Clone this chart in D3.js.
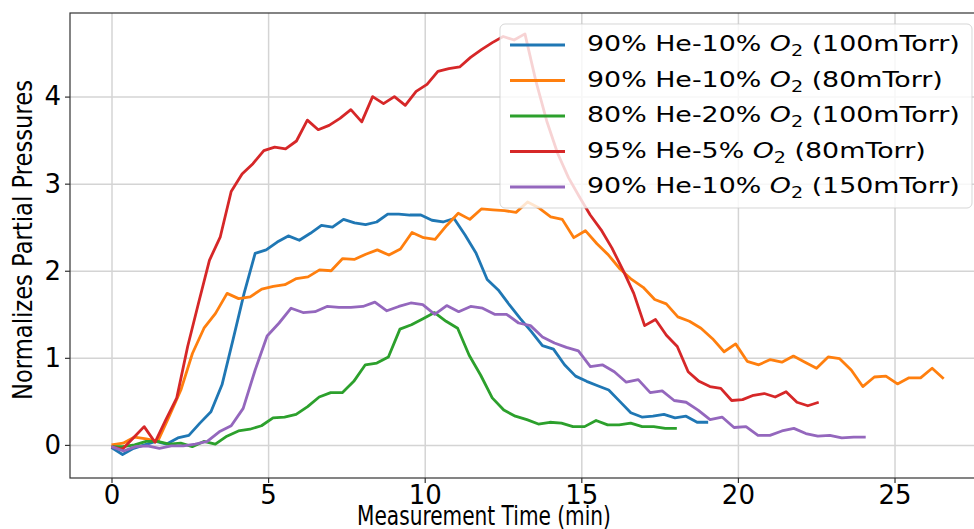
<!DOCTYPE html>
<html>
<head>
<meta charset="utf-8">
<script src="https://cdn.jsdelivr.net/npm/d3@7"></script>
<style>
    body { margin:0; background:#fff; }
    text { font-family:"DejaVu Sans", sans-serif; fill:#000; }
</style>
</head>
<body>
<script>

var blueVals = [-0.03,-0.11,-0.04,0.00,0.04,0.01,0.08,0.11,0.25,0.38,
    0.69,1.21,1.74,2.20,2.24,2.33,2.40,2.35,2.43,2.52,
    2.50,2.59,2.55,2.53,2.56,2.65,2.65,2.64,2.64,2.58,
    2.56,2.60,2.41,2.20,1.90,1.78,1.61,1.45,1.30,1.14,
    1.10,0.92,0.79,0.73,0.68,0.63,0.50,0.37,0.32,0.33,
    0.35,0.31,0.33,0.26,0.26];
var orangeVals = [0.00,0.02,0.09,0.07,0.04,0.33,0.63,1.05,1.34,1.51,
    1.74,1.68,1.70,1.79,1.82,1.84,1.91,1.93,2.01,2.00,
    2.14,2.13,2.19,2.24,2.18,2.25,2.44,2.38,2.36,2.52,
    2.66,2.59,2.71,2.70,2.69,2.67,2.79,2.72,2.62,2.59,
    2.38,2.46,2.31,2.18,2.02,1.90,1.81,1.67,1.62,1.47,
    1.42,1.34,1.22,1.07,1.16,0.96,0.92,0.98,0.95,1.02,
    0.95,0.88,1.01,0.99,0.86,0.67,0.78,0.79,0.70,0.77,
    0.77,0.88,0.76];
var greenVals = [-0.02,-0.02,0.00,0.04,0.04,0.01,0.02,-0.02,0.04,0.01,
    0.10,0.16,0.18,0.22,0.31,0.32,0.35,0.44,0.55,0.60,
    0.60,0.73,0.92,0.94,1.01,1.33,1.38,1.45,1.52,1.42,
    1.34,1.03,0.80,0.54,0.40,0.33,0.29,0.24,0.26,0.25,
    0.21,0.21,0.28,0.23,0.23,0.25,0.21,0.21,0.19,0.19];
var redVals = [-0.02,-0.05,0.08,0.21,0.03,0.29,0.54,1.13,1.63,2.12,
    2.39,2.91,3.11,3.23,3.38,3.42,3.40,3.49,3.73,3.62,
    3.67,3.75,3.85,3.71,4.00,3.92,4.00,3.90,4.06,4.14,
    4.29,4.32,4.34,4.45,4.54,4.62,4.69,4.65,4.72,4.18,
    3.72,3.35,3.07,2.85,2.64,2.47,2.26,2.01,1.74,1.37,
    1.44,1.26,1.13,0.84,0.73,0.67,0.65,0.51,0.52,0.57,
    0.59,0.55,0.61,0.49,0.45,0.49];
var purpleVals = [-0.02,-0.07,-0.02,-0.01,-0.04,-0.01,-0.01,0.01,0.04,0.15,
    0.22,0.42,0.86,1.25,1.40,1.57,1.52,1.53,1.59,1.58,
    1.58,1.59,1.64,1.54,1.59,1.63,1.61,1.50,1.60,1.53,
    1.59,1.57,1.50,1.50,1.40,1.37,1.24,1.17,1.12,1.08,
    0.90,0.92,0.84,0.72,0.75,0.60,0.62,0.51,0.49,0.40,
    0.29,0.32,0.20,0.21,0.11,0.11,0.16,0.19,0.13,0.10,
    0.11,0.08,0.09,0.09];

// last measurement time of each run (min)
var endTimes = [19.05, 26.57, 18.05, 22.58, 24.08];
var mixLabels = ["90% He-10%", "90% He-10%", "80% He-20%", "95% He-5%", "90% He-10%"];
var pressureLabels = ["(100mTorr)", "(80mTorr)", "(100mTorr)", "(80mTorr)", "(150mTorr)"];
var xTicks = [0, 5, 10, 15, 20, 25];
var yTicks = [0, 1, 2, 3, 4];

var colors = ["#1f77b4", "#ff7f0e", "#2ca02c", "#d62728", "#9467bd"];

// squeeze/stretch a text horizontally so it spans "target" pixels
var fitWidth = function(sel, x, y, rot, target)
{
    var w = sel.node().getComputedTextLength();
    sel.attr("transform", "translate("+x+","+y+") rotate("+rot+") scale("+(target/w)+",1)");
    return target/w;
}

var drawChart = function(width, height)
{
    var margins = {top:13, bottom:51, left:70, right:-9};

    var graph =
    {
        width:width-margins.left-margins.right,
        height:height-margins.top-margins.bottom
    };

    var runs = [blueVals, orangeVals, greenVals, redVals, purpleVals].map(function(vals, i){
        var step = endTimes[i]/(vals.length-1);
        return vals.map(function(v, j){ return {t:j*step, v:v}; });
    });

    var xScale = d3.scaleLinear()
        .domain([-1.325, 27.825])
        .range([0, graph.width]);
    var yScale = d3.scaleLinear()
        .domain([-0.38, 4.96])
        .range([graph.height, 0]);

    var svg = d3.select("body")
        .append("svg")
            .attr("width", width)
            .attr("height", height);

    svg.append("rect")
        .attr("width", width)
        .attr("height", height)
        .attr("fill", "#fff");

    var plot = svg.append("g")
        .attr("transform", "translate("+margins.left+","+margins.top+")");

    svg.append("clipPath")
        .attr("id", "clip")
        .append("rect")
            .attr("width", graph.width)
            .attr("height", graph.height);

    // grid
    plot.append("g")
        .call(d3.axisBottom(xScale).tickValues(xTicks).tickSize(graph.height).tickFormat(""))
        .call(function(g){ g.select(".domain").remove(); })
        .selectAll("line")
            .attr("stroke", "#d4d4d4")
            .attr("stroke-width", 1.5);
    plot.append("g")
        .call(d3.axisLeft(yScale).tickValues(yTicks).tickSize(-graph.width).tickFormat(""))
        .call(function(g){ g.select(".domain").remove(); })
        .selectAll("line")
            .attr("stroke", "#d4d4d4")
            .attr("stroke-width", 1.5);

    // series
    var line = d3.line()
        .x(function(d){ return xScale(d.t); })
        .y(function(d){ return yScale(d.v); });

    plot.append("g")
        .attr("clip-path", "url(#clip)")
        .selectAll(".run")
        .data(runs)
        .enter()
        .append("path")
            .classed("run", true)
            .attr("fill", "none")
            .attr("stroke", function(d, i){ return colors[i]; })
            .attr("stroke-width", 2.8)
            .attr("stroke-linejoin", "round")
            .attr("d", line);

    // spines
    plot.append("rect")
        .attr("width", graph.width)
        .attr("height", graph.height)
        .attr("fill", "none")
        .attr("stroke", "#333")
        .attr("stroke-width", 1.2);

    // axes
    var xAxis = plot.append("g")
        .attr("transform", "translate(0,"+graph.height+")")
        .call(d3.axisBottom(xScale).tickValues(xTicks).tickSize(5).tickPadding(3)
            .tickFormat(d3.format("d")));
    var yAxis = plot.append("g")
        .call(d3.axisLeft(yScale).tickValues(yTicks).tickSize(5).tickPadding(4)
            .tickFormat(d3.format("d")));

    [xAxis, yAxis].forEach(function(ax){
        ax.select(".domain").remove();
        ax.selectAll("line").attr("stroke", "#333").attr("stroke-width", 1.2);
        ax.selectAll("text")
            .attr("font-family", "DejaVu Sans")
            .attr("font-size", 26)
            .attr("fill", "#000");
    });

    var xLabel = svg.append("text")
        .attr("text-anchor", "middle")
        .attr("font-size", 27)
        .text("Measurement Time (min)");
    fitWidth(xLabel, 484, 525, 0, 254);

    var yLabel = svg.append("text")
        .attr("text-anchor", "middle")
        .attr("font-size", 26)
        .text("Normalizes Partial Pressures");
    fitWidth(yLabel, 32, 240, -90, 320);

    // legend
    var legend = svg.append("g")
        .attr("transform", "translate(500,24)");

    legend.append("rect")
        .attr("width", 472)
        .attr("height", 184)
        .attr("rx", 5)
        .attr("fill", "#fff")
        .attr("fill-opacity", 0.8)
        .attr("stroke", "#ccc")
        .attr("stroke-opacity", 0.8);

    var rows = legend.selectAll(".entry")
        .data(colors)
        .enter()
        .append("g")
            .classed("entry", true)
            .attr("transform", function(d, i){ return "translate(0,"+(21+i*35.5)+")"; });

    rows.append("line")
        .attr("x1", 10)
        .attr("x2", 65)
        .attr("stroke", function(d){ return d; })
        .attr("stroke-width", 3);

    var label = rows.append("text")
        .attr("font-size", 21);
    label.append("tspan")
        .text(function(d, i){ return mixLabels[i]+" "; });
    label.append("tspan")
        .attr("font-style", "italic")
        .text("O");
    label.append("tspan")
        .attr("font-size", 15)
        .attr("dy", 5)
        .text("2");
    label.append("tspan")
        .attr("dy", -5)
        .text(function(d, i){ return " "+pressureLabels[i]; });

    // the first entry spans 373px in the picture; stretch every entry alike
    var k = 373/label.node().getComputedTextLength();
    label.attr("transform", "translate(87,6) scale("+k+",1)");
}

drawChart(974, 529);

</script>
</body>
</html>
